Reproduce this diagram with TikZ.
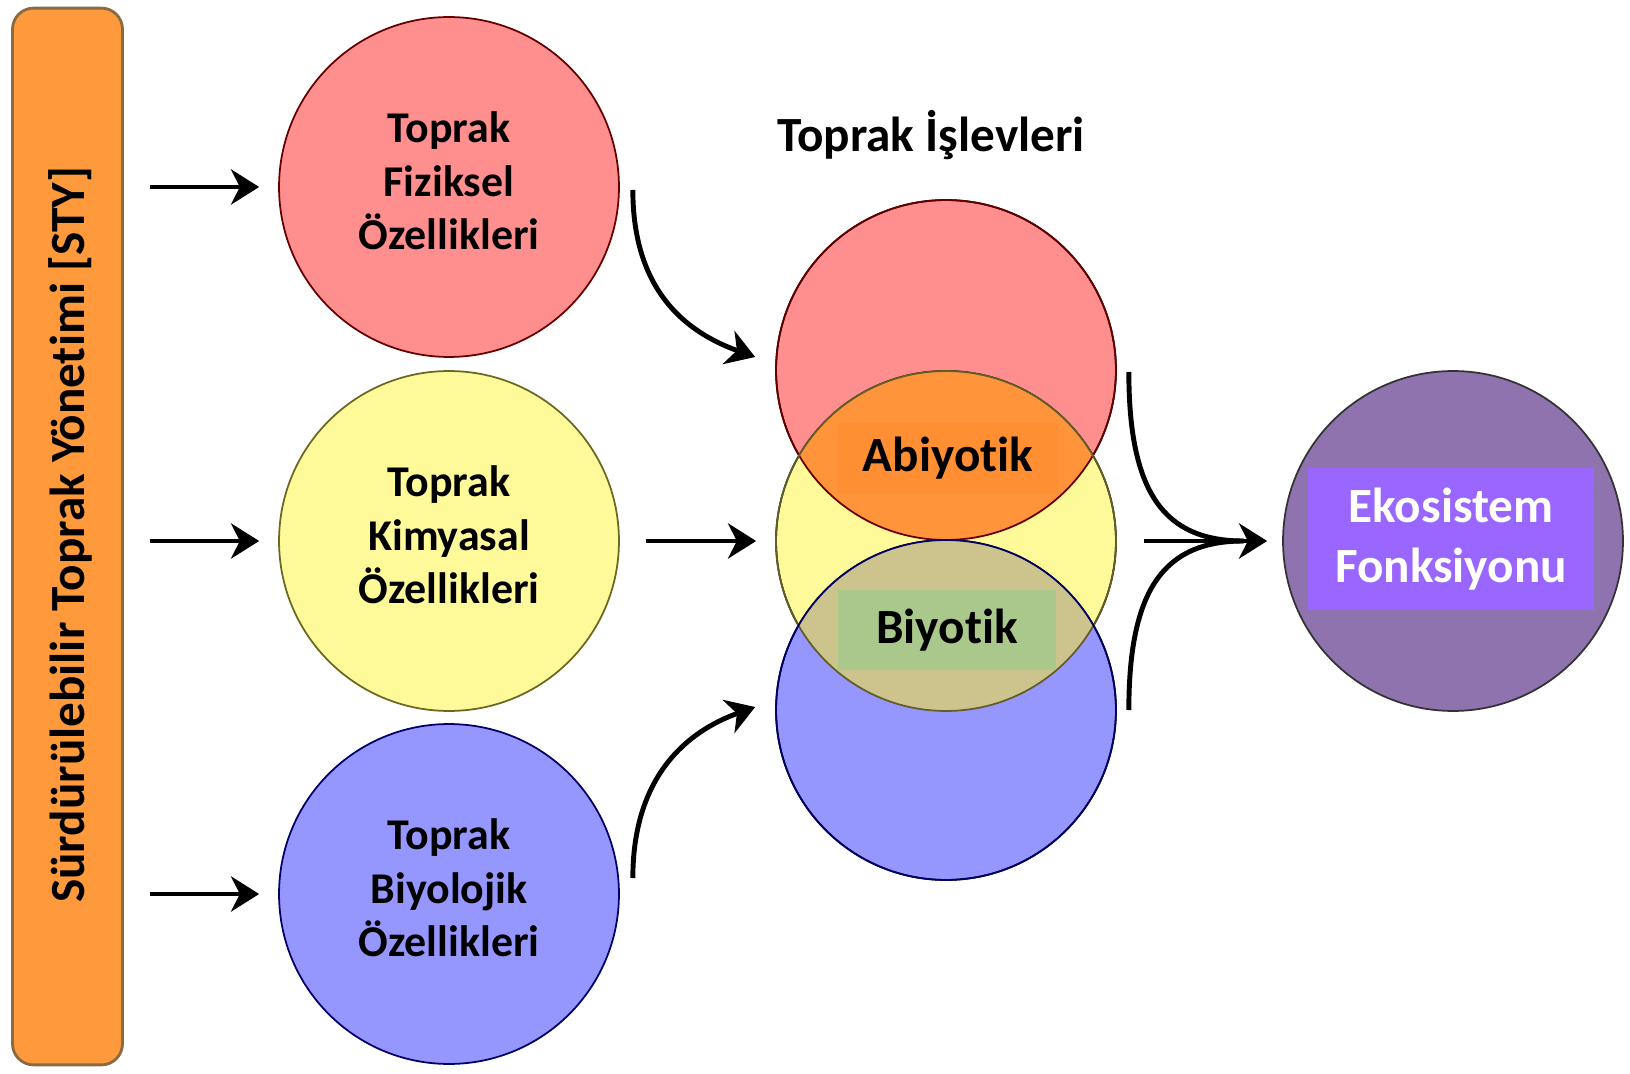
\documentclass[tikz,border=0pt]{standalone}
\usepackage{fontspec}
\setmainfont{Carlito}[Ligatures=NoCommon]
\usetikzlibrary{arrows.meta}
\definecolor{turuncu}{HTML}{FF9A3C}
\definecolor{kahve}{HTML}{8C6A40}
\definecolor{kirmizi}{HTML}{FF8F8F}
\definecolor{sari}{HTML}{FFFA99}
\definecolor{mavi}{HTML}{9696FF}
\definecolor{mor}{HTML}{8E73AE}
\definecolor{morkutu}{HTML}{9966FF}
\tikzset{okucu/.tip={Stealth[length=16pt,width=20pt,inset=5pt]}}

\begin{document}
\begin{tikzpicture}[x=0.02cm,y=-0.02cm]
\tikzstyle{every node}=[font=\bfseries\fontsize{25}{30.5}\selectfont, align=center]
\tikzstyle{buyuk}=[font=\bfseries\fontsize{28}{34}\selectfont]
\tikzstyle{daire}=[circle, draw, minimum size=6.8cm, inner sep=0pt, line width=1pt]
\tikzstyle{ok}=[line width=2.8pt, -okucu]
\tikzstyle{cizgi}=[line width=2.8pt]
\useasboundingbox (0,0) rectangle (1630,1074);
	% sol serit
    \node[draw=kahve, fill=turuncu, line width=1.6pt, rounded corners=12pt,
          minimum width=2.2cm, minimum height=21.14cm] (sty) at (67.5,536.5) {};
    \node[rotate=90, font=\bfseries\fontsize{28}{34}\selectfont] (stytxt) at (70,535) {S\"urd\"ur\"ulebilir Toprak Y\"onetimi [STY]};
	% ozellikler
    \node[daire, fill=kirmizi, draw=red!40!black, text depth=7pt] (fiz) at (449,187) {Toprak\\Fiziksel\\\"Ozellikleri};
    \node[daire, fill=sari, draw=olive!70!black, text depth=7pt] (kim) at (449,541) {Toprak\\Kimyasal\\\"Ozellikleri};
    \node[daire, fill=mavi, draw=blue!40!black, text depth=7pt] (biy) at (449,894) {Toprak\\Biyolojik\\\"Ozellikleri};
	% islevler
    \node[buyuk] (islev) at (931,135) {Toprak İşlevleri};
    \node[daire, fill=kirmizi] (islevF) at (946,370) {};
    \node[daire, fill=sari] (islevK) at (946,541) {};
    \node[daire, fill=mavi] (islevB) at (946,710) {};
    \begin{scope}
    	\clip (islevF.center) circle (3.4cm);
    	\fill[fill={rgb,255:red,255;green,148;blue,58}] (islevK.center) circle (3.4cm);
    \end{scope}
    \begin{scope}
    	\clip (islevB.center) circle (3.4cm);
    	\fill[fill={rgb,255:red,205;green,195;blue,140}] (islevK.center) circle (3.4cm);
    \end{scope}
    \draw[line width=1pt, red!40!black] (islevF.center) circle (3.4cm);
    \draw[line width=1pt, olive!60!black] (islevK.center) circle (3.4cm);
    \draw[line width=1pt, blue!40!black] (islevB.center) circle (3.4cm);
    \node[buyuk, fill={rgb,255:red,255;green,143;blue,50}, minimum width=4.4cm, minimum height=1.42cm] (abiyo) at (948,458) {Abiyotik};
    \node[buyuk, fill={rgb,255:red,170;green,200;blue,140}, minimum width=4.38cm, minimum height=1.6cm] (biyo) at (947,630) {Biyotik};
	% ekosistem
    \node[daire, fill=mor, draw=black!80] (eko) at (1453,541) {};
    \node[buyuk, fill=morkutu, text=white, minimum width=5.72cm, minimum height=2.84cm] (ekotxt) at (1451,539) {Ekosistem\\Fonksiyonu};
	% oklar
    \foreach \n in {fiz,kim,biy}
    	\draw[ok, shorten <=0.52cm, shorten >=0.38cm] (sty.east |- \n) -- (\n.west);
    \draw[ok, shorten <=0.52cm, shorten >=0.38cm] (kim.east) -- (islevK.west);
    \draw[ok] ([shift={(13,3)}]fiz.east) .. controls +(0,100) and +(-70,-25) .. ([shift={(-20,-13)}]islevF.west);
    \draw[ok] ([shift={(13,-16)}]biy.east) .. controls +(0,-100) and +(-70,25) .. ([shift={(-20,-3)}]islevB.west);
    \draw[cizgi] ([shift={(12,2)}]islevF.east) .. controls +(0,120) and +(-80,0) .. ([xshift=-22]eko.west);
    \draw[cizgi] ([shift={(12,0)}]islevB.east) .. controls +(0,-120) and +(-80,0) .. ([xshift=-22]eko.west);
    \draw[ok, shorten <=0.54cm, shorten >=0.3cm] (islevK.east) -- (eko.west);
\end{tikzpicture}
\end{document}
